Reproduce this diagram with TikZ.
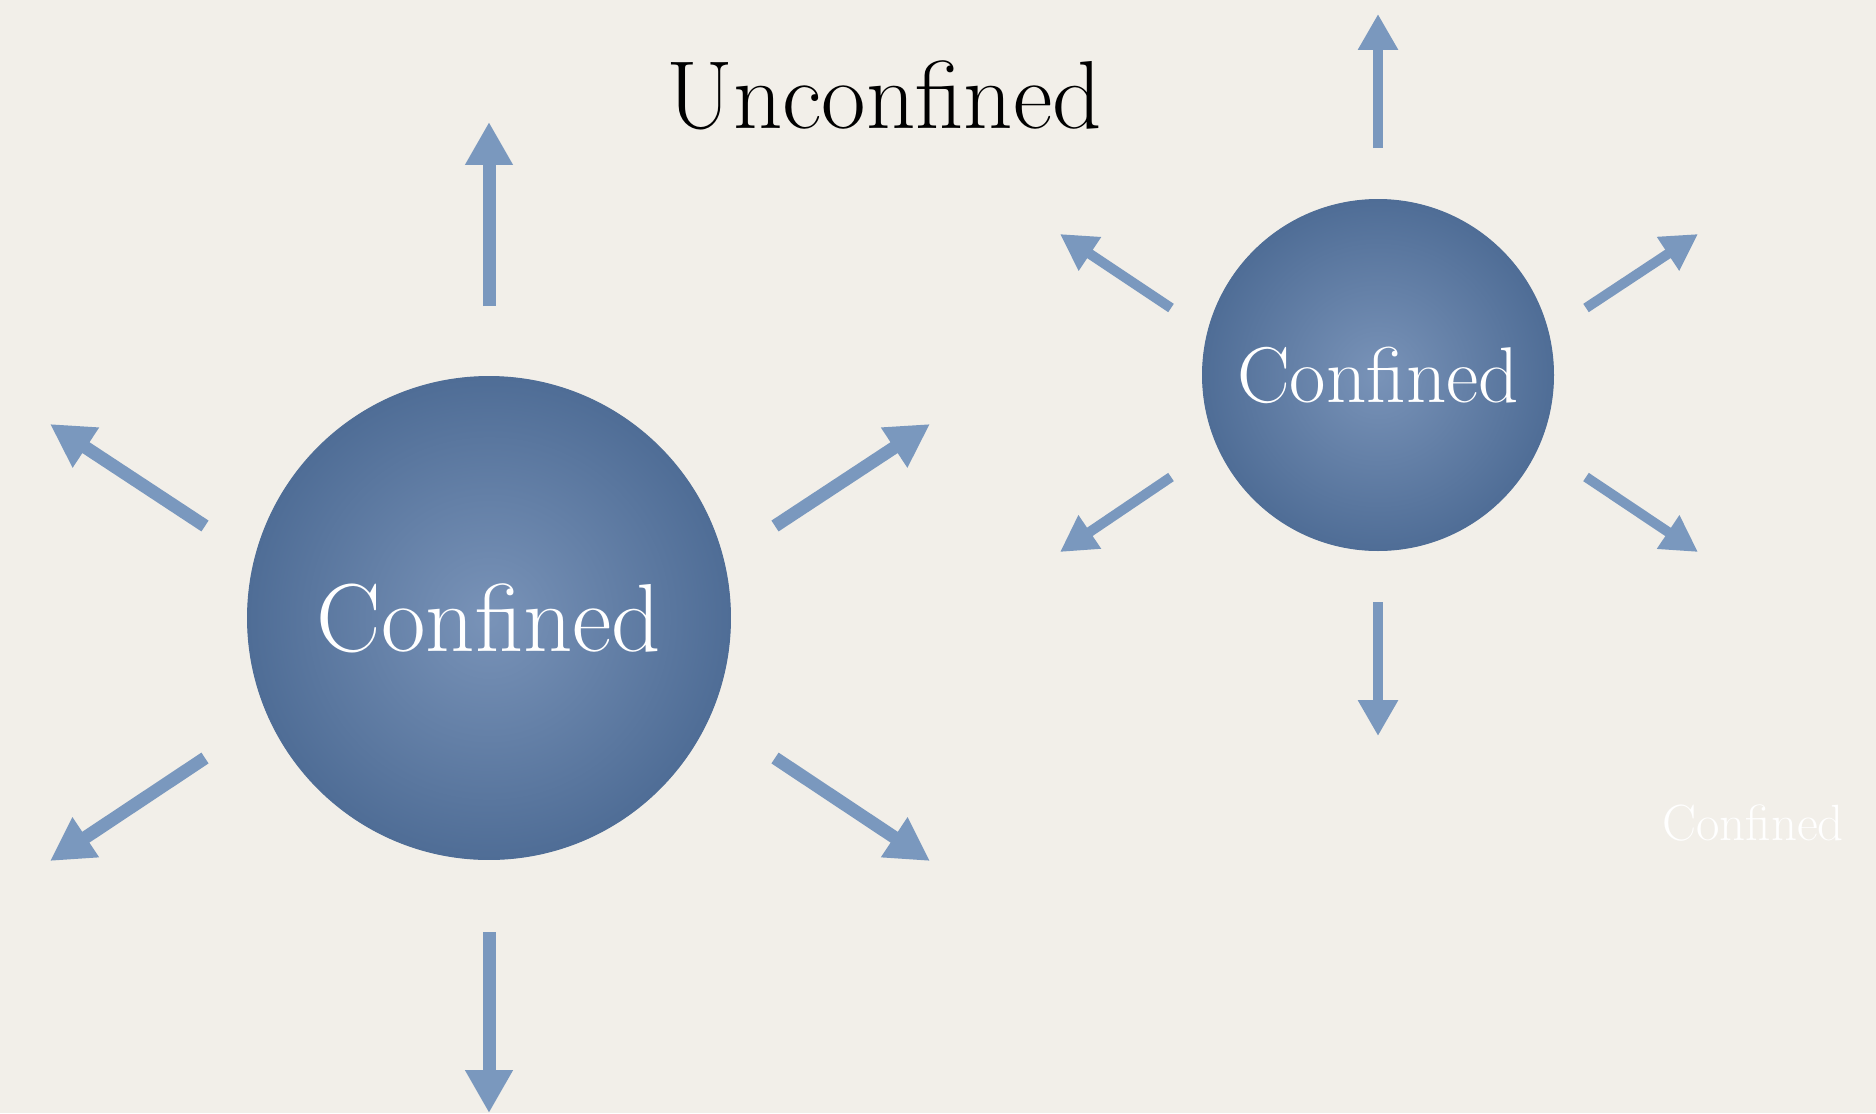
\documentclass[tikz,border=0pt]{standalone}
\usepackage{xcolor}
\usepackage{tikz}
\usetikzlibrary{arrows.meta, positioning}

\definecolor{paper}{RGB}{242,239,233}
\definecolor{ballin}{RGB}{121,147,184}
\definecolor{ballout}{RGB}{79,109,150}
\definecolor{ray}{RGB}{122,152,190}

\tikzset{
  ball/.style = {inner color = ballin, outer color = ballout,
      draw = ballout, line width = 0.6pt},
  label/.style = {inner sep = 0pt, text = white},
  bigray/.style = {draw = ray, line width = 0.26cm,
      -{Triangle[length = 0.86cm, width = 0.9cm]}},
  smallray/.style = {draw = ray, line width = 0.2cm,
      -{Triangle[length = 0.72cm, width = 0.76cm]}}
}

\begin{document}
\begin{tikzpicture} [x = 0.02cm, y = -0.02cm]

          \fill[paper] (0,0) rectangle (1876,1113);
          \useasboundingbox (0,0) rectangle (1876,1113);

          % the two balls
          \shade[ball] (489,618) circle [radius = 4.83cm];
          \shade[ball] (1378,375) circle [radius = 3.51cm];

          \node (title) [anchor = base, font = \fontsize{55}{60}\selectfont] at (884,128) {Unconfined};

          \node (big) [label, font = \fontsize{55}{60}\selectfont] at (489,618) {Confined};
          \node (small) [label, font = \fontsize{45}{50}\selectfont] at (1378,375) {Confined};
          \node (faint) [label, anchor = base, font = \fontsize{29}{33}\selectfont] at (1753,840) {Confined};

          % ends of the big rays
          \coordinate (bu0) at (489,306);   \coordinate (bu1) at (489,122);
          \coordinate (bd0) at (489,932);   \coordinate (bd1) at (489,1113);
          \coordinate (bul0) at (205,526);  \coordinate (bul1) at (50,424);
          \coordinate (bur0) at (775,526);  \coordinate (bur1) at (930,424);
          \coordinate (bdl0) at (205,758);  \coordinate (bdl1) at (50,861);
          \coordinate (bdr0) at (775,758);  \coordinate (bdr1) at (930,861);

          % ends of the small rays
          \coordinate (su0) at (1378,148);  \coordinate (su1) at (1378,14);
          \coordinate (sd0) at (1378,602);  \coordinate (sd1) at (1378,736);
          \coordinate (sul0) at (1171,308); \coordinate (sul1) at (1060,234);
          \coordinate (sur0) at (1586,308); \coordinate (sur1) at (1698,234);
          \coordinate (sdl0) at (1171,477); \coordinate (sdl1) at (1060,552);
          \coordinate (sdr0) at (1586,477); \coordinate (sdr1) at (1698,552);

          % Rays
          \draw[bigray] (bu0) -- (bu1);
          \draw[bigray] (bd0) -- (bd1);
          \draw[bigray] (bul0) -- (bul1);
          \draw[bigray] (bur0) -- (bur1);
          \draw[bigray] (bdl0) -- (bdl1);
          \draw[bigray] (bdr0) -- (bdr1);

          \draw[smallray] (su0) -- (su1);
          \draw[smallray] (sd0) -- (sd1);
          \draw[smallray] (sul0) -- (sul1);
          \draw[smallray] (sur0) -- (sur1);
          \draw[smallray] (sdl0) -- (sdl1);
          \draw[smallray] (sdr0) -- (sdr1);

        \end{tikzpicture}
\end{document}
